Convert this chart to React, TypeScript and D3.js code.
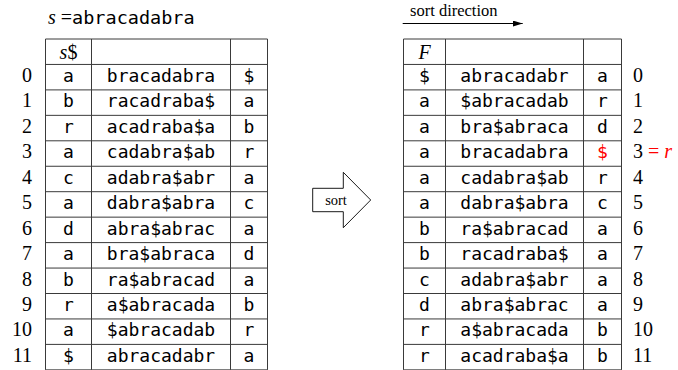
import * as d3 from 'd3'

// rotations of s$ before sorting (first char | middle | last char)
const leftFirst = ['a', 'b', 'r', 'a', 'c', 'a', 'd', 'a', 'b', 'r', 'a', '$']
const leftMiddle = [
  'bracadabra', 'racadraba$', 'acadraba$a', 'cadabra$ab', 'adabra$abr', 'dabra$abra',
  'abra$abrac', 'bra$abraca', 'ra$abracad', 'a$abracada', '$abracadab', 'abracadabr'
]
const leftLast = ['$', 'a', 'b', 'r', 'a', 'c', 'a', 'd', 'a', 'b', 'r', 'a']

// sorted rotations
const rightFirst = ['$', 'a', 'a', 'a', 'a', 'a', 'b', 'b', 'c', 'd', 'r', 'r']
const rightMiddle = [
  'abracadabr', '$abracadab', 'bra$abraca', 'bracadabra', 'cadabra$ab', 'dabra$abra',
  'ra$abracad', 'racadraba$', 'adabra$abr', 'abra$abrac', 'a$abracada', 'acadraba$a'
]
const rightLast = ['a', 'r', 'd', '$', 'r', 'c', 'a', 'a', 'a', 'a', 'b', 'b']
const rowIndex = d3.range(12)
const markedRow = 3
const sourceString = 'abracadabra'

const W = 678
const H = 370
const MONO = '"DejaVu Sans Mono", monospace'
const SERIF = '"Liberation Serif", "Times New Roman", serif'
const LINE = '#3a3a3a'

const y = d3.scaleBand<string>()
  .domain(['head', ...rowIndex.map(String)])
  .range([39, 39 + 13 * 25.45])

function Table({ cols, first, middle, last, header, labelX, labelAnchor, marked }) {
  const top = y('head')
  const bottom = y('11') + y.bandwidth()
  const cx = [0, 1, 2].map(i => (cols[i] + cols[i + 1]) / 2)
  return (
    <g>
      {y.domain().map(k => (
        <line key={'h' + k} x1={cols[0]} x2={cols[3]} y1={y(k)} y2={y(k)} stroke={LINE} strokeWidth={1} />
      ))}
      <line x1={cols[0]} x2={cols[3]} y1={bottom} y2={bottom} stroke={LINE} strokeWidth={1} />
      {cols.map((c, i) => (
        <line key={'v' + i} x1={c} x2={c} y1={top} y2={bottom} stroke={LINE} strokeWidth={1} />
      ))}
      <text x={cx[0]} y={top + 19.5} textAnchor='middle' fontFamily={SERIF} fontSize={20}>
        {header}
      </text>
      {rowIndex.map(i => {
        const base = y(String(i)) + 17.5
        return (
          <g key={i} fontFamily={MONO} fontSize={18} textAnchor='middle'>
            <text x={cx[0]} y={base}>{first[i]}</text>
            <text x={cx[1]} y={base}>{middle[i]}</text>
            <text x={cx[2]} y={base} fill={i === marked ? '#ff0000' : '#000'}>{last[i]}</text>
            <text x={labelX} y={base} textAnchor={labelAnchor} fontFamily={SERIF} fontSize={20}>
              {i}
              {i === marked && (
                <tspan fill='#ff0000'>
                  {' = '}
                  <tspan fontStyle='italic'>r</tspan>
                </tspan>
              )}
            </text>
          </g>
        )
      })}
    </g>
  )
}

export default function App() {
  // block arrow between the two tables
  const arrow = d3.line()([
    [312.7, 188.3], [343.3, 188.3], [343.3, 172.3], [370.7, 200],
    [343.3, 227.7], [343.3, 211.7], [312.7, 211.7]
  ]) + 'Z'

  return (
    <div style={{ position: 'fixed', left: 0, top: 0 }}>
      <svg width={W} height={H} style={{ display: 'block', background: '#fff' }}>
        <text x={48} y={24} fontSize={20} fontFamily={SERIF}>
          <tspan fontStyle='italic'>s</tspan>
          <tspan> =</tspan>
          <tspan fontFamily={MONO} fontSize={18.5}>{sourceString}</tspan>
        </text>

        <Table
          cols={[45.5, 91.5, 230.5, 267.5]}
          first={leftFirst} middle={leftMiddle} last={leftLast}
          header={<><tspan fontStyle='italic'>s</tspan>$</>}
          labelX={32} labelAnchor='end' marked={-1}
        />

        <Table
          cols={[403.5, 445.5, 583.5, 621.5]}
          first={rightFirst} middle={rightMiddle} last={rightLast}
          header={<tspan fontStyle='italic'>F</tspan>}
          labelX={633} labelAnchor='start' marked={markedRow}
        />

        {/* sort direction */}
        <defs>
          <marker id='head' viewBox='0 0 10 6' refX={10} refY={3} markerWidth={10} markerHeight={6}
            markerUnits='userSpaceOnUse' orient='auto'>
            <path d='M0,0L10,3L0,6Z' fill='#000' />
          </marker>
        </defs>
        <text x={410} y={16} fontFamily={SERIF} fontSize={16.5}>sort direction</text>
        <line x1={402.7} x2={522.7} y1={23.5} y2={23.5} stroke='#000' strokeWidth={1} markerEnd='url(#head)' />

        <path d={arrow} fill='#fff' stroke='#000' strokeWidth={0.9} />
        <text x={336} y={204.5} textAnchor='middle' fontFamily={SERIF} fontSize={14.5}>sort</text>
      </svg>
    </div>
  )
}
